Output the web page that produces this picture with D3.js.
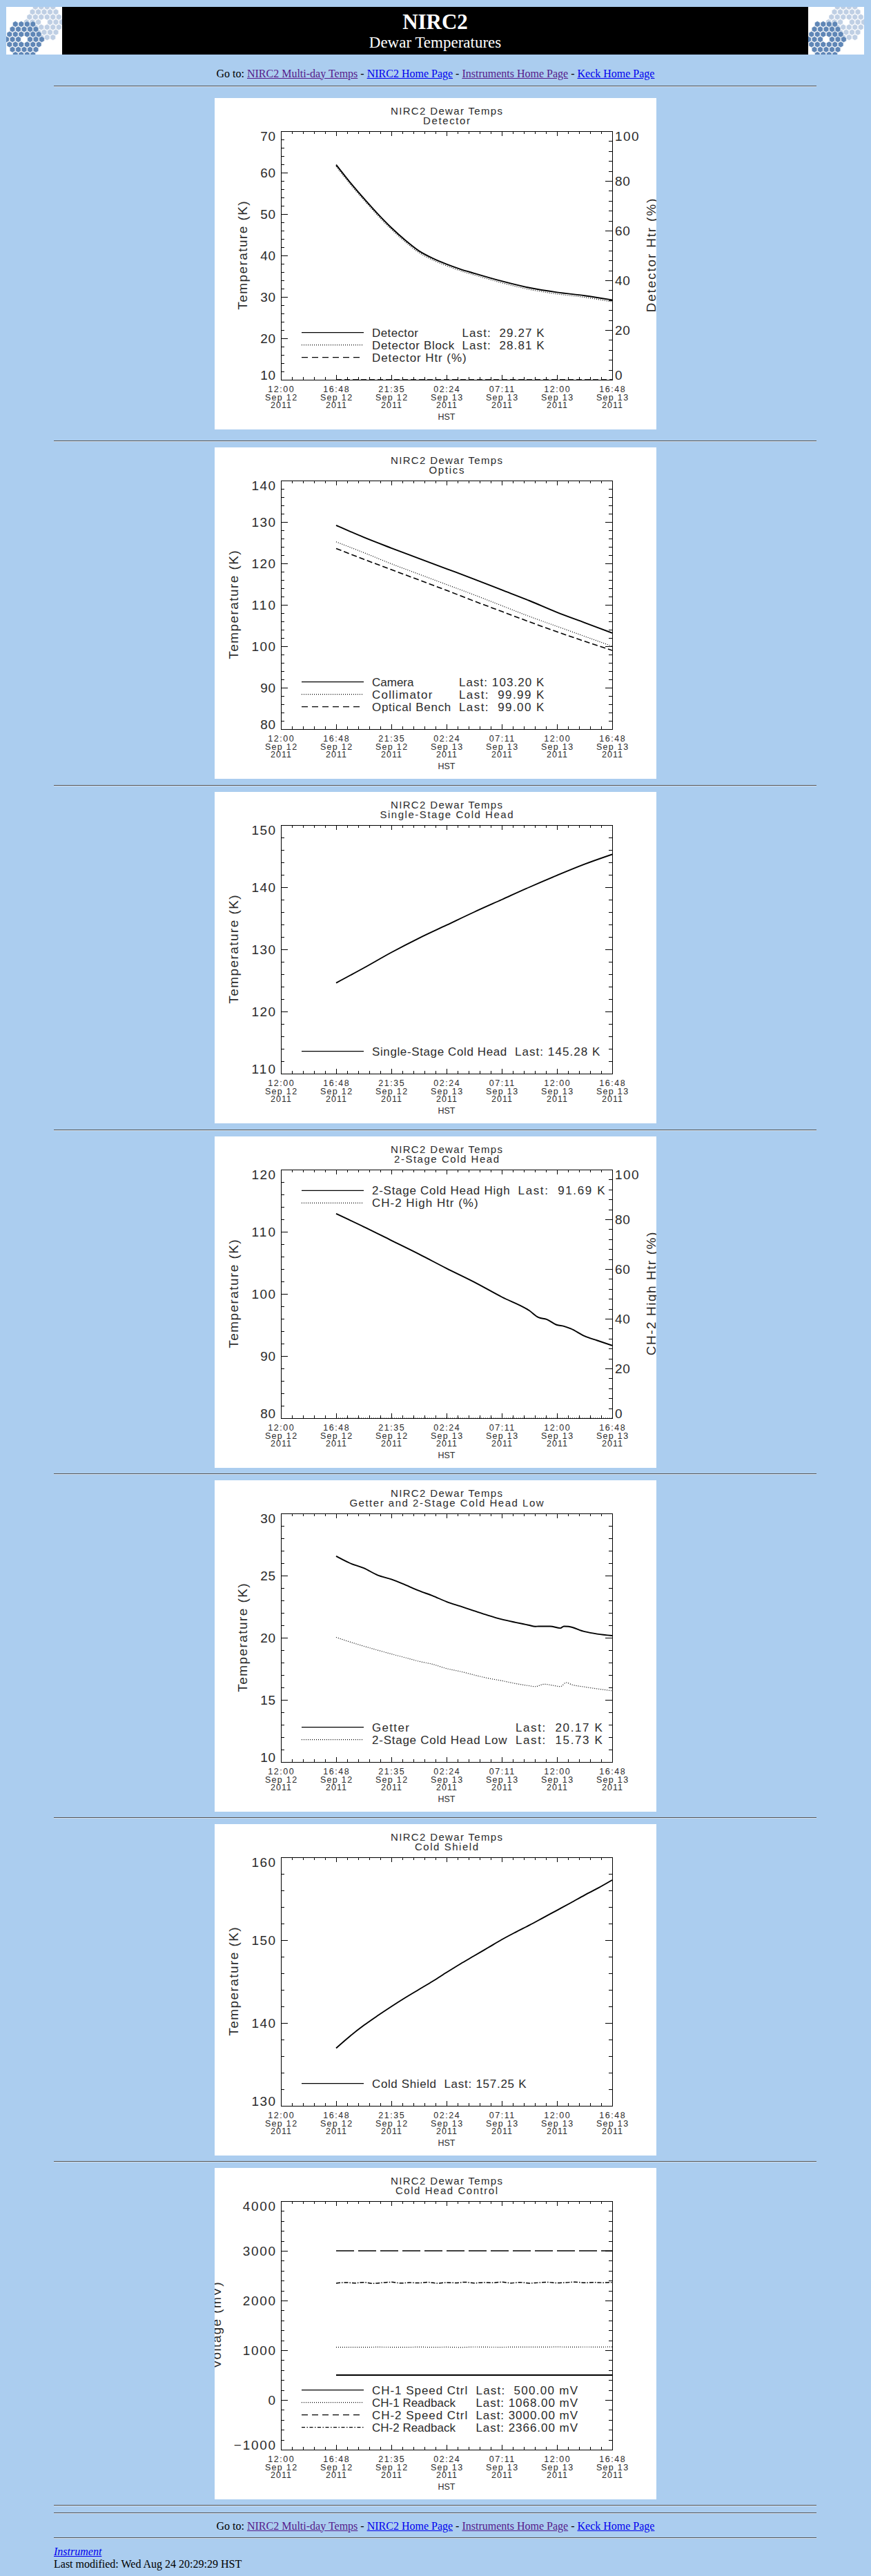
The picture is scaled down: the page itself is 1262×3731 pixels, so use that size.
<!DOCTYPE html>
<html lang="en">
  <head>
    <meta charset="UTF-8" />
    <title>NIRC2 Dewar Temperatures</title>
    <style>
      body {
        margin: 0;
        position: relative;
        width: 1262px;
        height: 3731px;
        overflow: hidden;
        background: #abcdef;
        font-family: "Liberation Serif", "Times New Roman", serif;
        font-size: 16px;
        color: #000;
      }
      .rule {
        position: absolute;
        left: 78px;
        width: 1105px;
        height: 0;
        border-top: 1px solid #555;
        border-bottom: 1px solid #d3e1f0;
      }
      .nav {
        position: absolute;
        left: 0;
        width: 1262px;
        text-align: center;
        line-height: 20px;
      }
      .foot {
        position: absolute;
        left: 78px;
        line-height: 18px;
      }
      a { text-decoration: underline; }
      a.seen { color: #551a8b; }
      a.fresh { color: #0000ee; }
      svg.abs { position: absolute; }
      .panel text {
        font-family: "Liberation Sans", Arial, sans-serif;
        fill: #2b2b2b;
        white-space: pre;
      }
    </style>
  </head>

  <body>
    <script src="https://cdn.jsdelivr.net/npm/d3@7"></script>
    <script>
      /* global d3 */

      // time axis, hours after 12:00 HST Sep 12 2011
      const tickHours = [0, 4.8, 9.6, 14.4, 19.2, 24, 28.8];
      const tickTimes = ["12:00", "16:48", "21:35", "02:24", "07:11", "12:00", "16:48"];
      const tickDays = ["Sep 12", "Sep 12", "Sep 12", "Sep 13", "Sep 13", "Sep 13", "Sep 13"];
      const tickYears = ["2011", "2011", "2011", "2011", "2011", "2011", "2011"];

      // detector
      const hoursDet = [4.8, 6.0, 7.2, 8.4, 9.6, 10.8, 12.0, 13.2, 14.4, 15.6, 16.8, 19.2, 21.6, 24.0, 26.4, 28.8];
      const detector = [61.9, 57.7, 53.8, 50.1, 46.7, 43.7, 41.1, 39.3, 37.9, 36.7, 35.7, 33.8, 32.2, 31.1, 30.3, 29.27];
      const detectorBlock = [61.5, 57.3, 53.4, 49.7, 46.3, 43.3, 40.7, 38.9, 37.5, 36.3, 35.3, 33.4, 31.8, 30.7, 29.9, 28.81];
      const htrHours = [4.8, 28.8];
      const detectorHtr = [0, 0];

      // optics
      const hoursOpt = [4.8, 7.2, 9.6, 12.0, 14.4, 16.8, 19.2, 21.6, 24.0, 26.4, 28.8];
      const camera = [129.2, 126.3, 123.7, 121.2, 118.7, 116.2, 113.6, 111.0, 108.2, 105.7, 103.2];
      const collimator = [125.2, 122.6, 119.9, 117.4, 114.9, 112.4, 109.8, 107.2, 104.8, 102.4, 99.99];
      const opticalBench = [123.6, 121.0, 118.5, 116.0, 113.5, 110.9, 108.4, 105.9, 103.5, 101.2, 99.0];

      // single-stage cold head
      const singleStage = [124.6, 127.0, 129.5, 131.8, 133.9, 136.0, 138.0, 140.0, 141.9, 143.7, 145.28];

      // 2-stage cold head
      const hoursCh2 = [4.8, 7.2, 9.6, 12.0, 14.4, 16.8, 19.2, 21.6, 22.4, 23.1, 24.0, 24.6, 25.2, 26.4, 27.5, 28.8];
      const ch2High = [112.9, 110.8, 108.6, 106.4, 104.1, 101.9, 99.5, 97.3, 96.2, 95.9, 95.0, 94.8, 94.4, 93.2, 92.5, 91.69];
      const ch2Htr = [0, 0];

      // getter and 2-stage low
      const hoursGetter = [4.8, 6.0, 7.2, 8.4, 9.6, 10.8, 12.0, 13.2, 14.4, 15.6, 16.8, 18.0, 19.2, 20.4, 21.6, 22.1, 22.4, 23.4, 24.3, 24.6, 25.0, 26.4, 27.5, 28.8];
      const getter = [26.56, 26.0, 25.6, 25.04, 24.7, 24.26, 23.78, 23.37, 22.9, 22.53, 22.16, 21.8, 21.48, 21.23, 21.0, 20.9, 20.92, 20.92, 20.77, 20.92, 20.9, 20.49, 20.3, 20.17];
      const hoursLow = [4.8, 6.0, 7.2, 8.4, 9.6, 10.8, 12.0, 13.2, 14.4, 15.6, 16.8, 18.0, 19.2, 20.4, 21.6, 22.1, 22.9, 23.6, 24.3, 24.8, 25.3, 26.4, 27.5, 28.8];
      const ch2Low = [20.03, 19.66, 19.32, 19.0, 18.69, 18.4, 18.1, 17.86, 17.52, 17.28, 17.0, 16.74, 16.54, 16.31, 16.13, 16.07, 16.26, 16.17, 16.07, 16.39, 16.22, 16.04, 15.89, 15.73];

      // cold shield
      const hoursShield = [4.8, 6.0, 7.2, 8.4, 9.6, 10.8, 12.0, 13.2, 14.4, 15.6, 16.8, 18.0, 19.2, 20.4, 21.6, 22.8, 24.0, 25.2, 26.4, 27.6, 28.8];
      const coldShield = [136.96, 138.4, 139.7, 140.87, 141.98, 143.04, 144.04, 145.04, 146.1, 147.13, 148.1, 149.08, 150.06, 150.95, 151.8, 152.7, 153.6, 154.5, 155.43, 156.3, 157.25];

      // cold head control (mV)
      const ctrlHours = [4.8, 28.8];
      const ch1Speed = [500, 500];
      const ch1Readback = [1060, 1062, 1061, 1063, 1062, 1060, 1064, 1061, 1063, 1058, 1066, 1063, 1062, 1065, 1064, 1063, 1067, 1064, 1066, 1065, 1068];
      const ch2Speed = [3000, 3000];
      const hoursFine = [4.8, 5.6, 6.4, 7.2, 8.0, 8.8, 9.6, 10.4, 11.2, 12.0, 12.8, 13.6, 14.4, 15.2, 16.0, 16.8, 17.6, 18.4, 19.2, 20.0, 20.8, 21.6, 22.4, 23.2, 24.0, 24.8, 25.6, 26.4, 27.2, 28.0, 28.8];
      const ch2Readback = [2348, 2362, 2351, 2366, 2344, 2358, 2370, 2349, 2360, 2353, 2367, 2346, 2361, 2355, 2369, 2350, 2363, 2357, 2371, 2352, 2365, 2348, 2360, 2368, 2354, 2362, 2372, 2356, 2364, 2359, 2366];

      const navLinks = [
        { text: "NIRC2 Multi-day Temps", seen: true },
        { text: "NIRC2 Home Page", seen: false },
        { text: "Instruments Home Page", seen: true },
        { text: "Keck Home Page", seen: false }
      ];

      const panels = [
        {
          sub: "Detector", yDomain: [10, 70], yStep: 10, yTitle: "Temperature (K)",
          right: { domain: [0, 100], step: 20, title: "Detector Htr (%)" },
          legendAt: "bottom", pad: 15, cw: 8.7,
          series: [
            { name: "Detector", h: hoursDet, v: detector, style: "solid", unit: " K" },
            { name: "Detector Block", h: hoursDet, v: detectorBlock, style: "dot", unit: " K" },
            { name: "Detector Htr (%)", h: htrHours, v: detectorHtr, style: "dash", axis: "right", plain: true }
          ]
        },
        {
          sub: "Optics", yDomain: [80, 140], yStep: 10, yTitle: "Temperature (K)",
          legendAt: "bottom", pad: 14, cw: 9.0,
          series: [
            { name: "Camera", h: hoursOpt, v: camera, style: "solid", unit: " K" },
            { name: "Collimator", h: hoursOpt, v: collimator, style: "dot", unit: " K" },
            { name: "Optical Bench", h: hoursOpt, v: opticalBench, style: "dash", unit: " K" }
          ]
        },
        {
          sub: "Single-Stage Cold Head", yDomain: [110, 150], yStep: 10, yTitle: "Temperature (K)",
          legendAt: "bottom", pad: 23, cw: 9.0,
          series: [
            { name: "Single-Stage Cold Head", h: hoursOpt, v: singleStage, style: "solid", unit: " K" }
          ]
        },
        {
          sub: "2-Stage Cold Head", yDomain: [80, 120], yStep: 10, yTitle: "Temperature (K)",
          right: { domain: [0, 100], step: 20, title: "CH-2 High Htr (%)" },
          legendAt: "top", pad: 23, cw: 9.2,
          series: [
            { name: "2-Stage Cold Head High", h: hoursCh2, v: ch2High, style: "solid", unit: " K" },
            { name: "CH-2 High Htr (%)", h: htrHours, v: ch2Htr, style: "dot", axis: "right", plain: true }
          ]
        },
        {
          sub: "Getter and 2-Stage Cold Head Low", yDomain: [10, 30], yStep: 5, yTitle: "Temperature (K)",
          legendAt: "bottom", pad: 22, cw: 9.45,
          series: [
            { name: "Getter", h: hoursGetter, v: getter, style: "solid", unit: " K" },
            { name: "2-Stage Cold Head Low", h: hoursLow, v: ch2Low, style: "dot", unit: " K" }
          ]
        },
        {
          sub: "Cold Shield", yDomain: [130, 160], yStep: 10, yTitle: "Temperature (K)",
          legendAt: "bottom", pad: 12, cw: 8.7,
          series: [
            { name: "Cold Shield", h: hoursShield, v: coldShield, style: "solid", unit: " K" }
          ]
        },
        {
          sub: "Cold Head Control", yDomain: [-1000, 4000], yStep: 1000, yTitle: "Voltage (mV)",
          legendAt: "bottom", pad: 16, cw: 9.4, fmt: "7.2f",
          series: [
            { name: "CH-1 Speed Ctrl", h: ctrlHours, v: ch1Speed, style: "solid", unit: " mV" },
            { name: "CH-1 Readback", h: hoursShield, v: ch1Readback, style: "dot", unit: " mV" },
            { name: "CH-2 Speed Ctrl", h: ctrlHours, v: ch2Speed, style: "longdash", unit: " mV" },
            { name: "CH-2 Readback", h: hoursFine, v: ch2Readback, style: "dashdot", unit: " mV" }
          ]
        }
      ];

      const panelTops = [142, 648, 1147, 1646, 2144, 2642, 3140];

      const lineStyle = {
        solid: { w: 1.9, dash: null, key: null },
        dot: { w: 1.2, dash: "1,2", key: "1,2" },
        dash: { w: 1.6, dash: "8,4", key: "9,6" },
        longdash: { w: 1.6, dash: "26,6", key: "9,6" },
        dashdot: { w: 1.5, dash: "6,2,1.5,2", key: "5,2.5,1.5,2.5" }
      };

      const body = d3.select("body");

      // the vector font of the plots is wider than any installed face:
      // stretch a string towards cw px per character, but never squeeze it
      // and never by more than 20%
      function hText(g, str, x, y, cw, size, anchor) {
        const t = g
          .append("text")
          .attr("x", x)
          .attr("y", y)
          .attr("font-size", size)
          .attr("text-anchor", anchor || "start")
          .attr("xml:space", "preserve")
          .text(str);
        if (str.length > 1) {
          const natural = t.node().getComputedTextLength();
          const target = Math.min((str.length - 0.3) * cw, natural * 1.2);
          if (target > natural) t.attr("textLength", target).attr("lengthAdjust", "spacing");
        }
        return t;
      }

      function rule(top) {
        body.append("div").attr("class", "rule").style("top", top + "px");
      }

      function nav(top) {
        const div = body.append("div").attr("class", "nav").style("top", top + "px");
        div.append("span").text("Go to: ");
        navLinks.forEach((l, i) => {
          if (i > 0) div.append("span").text(" - ");
          div.append("a").attr("href", "#").attr("class", l.seen ? "seen" : "fresh").text(l.text);
        });
      }

      // banner ---------------------------------------------------------------
      const banner = body
        .append("svg")
        .attr("class", "abs")
        .style("left", "0px")
        .style("top", "0px")
        .attr("width", 1262)
        .attr("height", 90);

      banner.append("rect").attr("x", 90).attr("y", 10).attr("width", 1081).attr("height", 69).attr("fill", "#000");
      banner
        .append("text")
        .attr("x", 630.5)
        .attr("y", 42)
        .attr("text-anchor", "middle")
        .attr("fill", "#fff")
        .attr("font-family", "Liberation Serif, serif")
        .attr("font-weight", "bold")
        .attr("font-size", 31)
        .text("NIRC2");
      banner
        .append("text")
        .attr("x", 630.5)
        .attr("y", 68.5)
        .attr("text-anchor", "middle")
        .attr("fill", "#fff")
        .attr("font-family", "Liberation Serif, serif")
        .attr("font-size", 23)
        .text("Dewar Temperatures");

      function hexCorners(r) {
        return d3.range(6).map(k => {
          const a = (Math.PI / 3) * k + Math.PI / 6;
          return [r * Math.cos(a), r * Math.sin(a)];
        });
      }

      function logo(ox) {
        const g = banner.append("g").attr("transform", `translate(${ox},10)`);
        g.append("rect").attr("width", 81).attr("height", 69).attr("fill", "#fff");
        const clip = "logo" + ox;
        g.append("clipPath").attr("id", clip).append("rect").attr("width", 81).attr("height", 69);
        const inner = g.append("g").attr("clip-path", `url(#${clip})`);
        const r = 4.9;
        const w = Math.sqrt(3) * r;
        const cells = [];
        for (let q = -3; q <= 3; q++) {
          for (let s = -3; s <= 3; s++) {
            const d = Math.max(Math.abs(q), Math.abs(s), Math.abs(q + s));
            if (d >= 1 && d <= 3) cells.push([w * (q + s / 2), 1.5 * r * s]);
          }
        }
        const hex = d3.line()(hexCorners(r - 0.5)) + "Z";
        // two primaries: the pale one behind, the darker one in front
        [
          { cx: 55, cy: 22, fill: "#bfcfe4" },
          { cx: 26, cy: 47, fill: "#5f86b6" }
        ].forEach(m => {
          inner
            .append("g")
            .selectAll("path")
            .data(cells)
            .join("path")
            .attr("transform", d => `translate(${m.cx + d[0]},${m.cy + d[1]})`)
            .attr("d", hex)
            .attr("fill", m.fill)
            .attr("stroke", "#fff")
            .attr("stroke-width", 0.5);
        });
      }
      logo(9);
      logo(1171);

      nav(96.6);
      rule(124);

      // panels ---------------------------------------------------------------
      const X0 = 96, X1 = 576, Y0 = 48, Y1 = 408;
      const labelCw = 12.8, labelSize = 19, cap = 13.6;

      function minorValues(lo, hi, step) {
        return d3
          .range(lo, hi + step / 10, step / 5)
          .filter(v => Math.abs(v / step - Math.round(v / step)) > 1e-6);
      }

      const fmtTick = v => (v < 0 ? "\u2212" + Math.abs(v) : String(v));

      function drawPanel(p, top, idx) {
        const svg = body
          .append("svg")
          .attr("class", "abs panel")
          .style("left", "311px")
          .style("top", top + "px")
          .attr("width", 640)
          .attr("height", 480);

        svg.append("rect").attr("width", 640).attr("height", 480).attr("fill", "#fff");

        const x = d3.scaleLinear().domain([0, 28.8]).range([X0, X1]);
        const y = d3.scaleLinear().domain(p.yDomain).range([Y1, Y0]);
        const yr = p.right ? d3.scaleLinear().domain(p.right.domain).range([Y1, Y0]) : y;
        const rStep = p.right ? p.right.step : p.yStep;

        // titles
        hText(svg, "NIRC2 Dewar Temps", 336, 24, 9.7, 15, "middle");
        hText(svg, p.sub, 336, 38, 9.1, 15, "middle");

        // ticks
        const xMinor = minorValues(0, 28.8, 4.8);
        const yMajor = d3.range(p.yDomain[0], p.yDomain[1] + p.yStep / 10, p.yStep);
        const yMinor = minorValues(p.yDomain[0], p.yDomain[1], p.yStep);
        const rMajor = d3.range(yr.domain()[0], yr.domain()[1] + rStep / 10, rStep);
        const rMinor = minorValues(yr.domain()[0], yr.domain()[1], rStep);

        const noDomain = g => g.select(".domain").remove();
        const axes = svg.append("g").attr("color", "#000").attr("shape-rendering", "crispEdges");

        axes.append("g").attr("transform", `translate(0,${Y1})`)
          .call(d3.axisBottom(x).tickValues(tickHours).tickSize(-7.2).tickFormat("")).call(noDomain);
        axes.append("g").attr("transform", `translate(0,${Y1})`)
          .call(d3.axisBottom(x).tickValues(xMinor).tickSize(-3.6).tickFormat("")).call(noDomain);
        axes.append("g").attr("transform", `translate(0,${Y0})`)
          .call(d3.axisTop(x).tickValues(tickHours).tickSize(-7.2).tickFormat("")).call(noDomain);
        axes.append("g").attr("transform", `translate(0,${Y0})`)
          .call(d3.axisTop(x).tickValues(xMinor).tickSize(-3.6).tickFormat("")).call(noDomain);
        axes.append("g").attr("transform", `translate(${X0},0)`)
          .call(d3.axisLeft(y).tickValues(yMajor).tickSize(-9.6).tickFormat("")).call(noDomain);
        axes.append("g").attr("transform", `translate(${X0},0)`)
          .call(d3.axisLeft(y).tickValues(yMinor).tickSize(-4.8).tickFormat("")).call(noDomain);
        axes.append("g").attr("transform", `translate(${X1},0)`)
          .call(d3.axisRight(yr).tickValues(rMajor).tickSize(-9.6).tickFormat("")).call(noDomain);
        axes.append("g").attr("transform", `translate(${X1},0)`)
          .call(d3.axisRight(yr).tickValues(rMinor).tickSize(-4.8).tickFormat("")).call(noDomain);

        axes.append("rect")
          .attr("x", X0 + 0.5).attr("y", Y0 + 0.5)
          .attr("width", X1 - X0).attr("height", Y1 - Y0)
          .attr("fill", "none").attr("stroke", "#000");

        // y labels, the end ones are kept inside the axis range
        const place = v => Math.max(Y0 + cap, Math.min(Y1, v + cap / 2));
        yMajor.forEach(v => hText(svg, fmtTick(v), X0 - 8, place(y(v)), labelCw, labelSize, "end"));
        const widest = d3.max(yMajor, v => fmtTick(v).length);
        const titleX = X0 - 8 - (widest - 0.3) * labelCw - 19;
        const lt = svg.append("g").attr("transform", `translate(${titleX},228) rotate(-90)`);
        hText(lt, p.yTitle, 0, 0, 10.7, labelSize, "middle");

        if (p.right) {
          rMajor.forEach(v => hText(svg, fmtTick(v), X1 + 4, place(yr(v)), labelCw, labelSize, "start"));
          const rt = svg.append("g").attr("transform", "translate(638.6,228) rotate(-90)");
          hText(rt, p.right.title, 0, 0, 10.7, labelSize, "middle");
        }

        // x labels
        tickHours.forEach((h, i) => {
          hText(svg, tickTimes[i], x(h), 426, 8.1, 12.5, "middle");
          hText(svg, tickDays[i], x(h), 437.5, 8.1, 12.5, "middle");
          hText(svg, tickYears[i], x(h), 449, 8.1, 12.5, "middle");
        });
        hText(svg, "HST", 336, 466, 8.1, 12.5, "middle");

        // data
        const clipId = "plot" + idx;
        svg.append("clipPath").attr("id", clipId)
          .append("rect").attr("x", X0).attr("y", Y0).attr("width", X1 - X0).attr("height", Y1 - Y0);
        const plot = svg.append("g").attr("clip-path", `url(#${clipId})`);

        p.series.forEach(s => {
          const ys = s.axis === "right" ? yr : y;
          const st = lineStyle[s.style];
          const line = d3
            .line()
            .x(d => x(d[0]))
            .y(d => ys(d[1]))
            .curve(d3.curveMonotoneX);
          plot
            .append("path")
            .datum(d3.zip(s.h, s.v))
            .attr("d", line)
            .attr("fill", "none")
            .attr("stroke", "#000")
            .attr("stroke-width", st.w)
            .attr("stroke-dasharray", st.dash);
        });

        // legend: name, then "Last: ..." on IDL's padded column
        const fmt = d3.format(p.fmt || "6.2f");
        const n = p.series.length;
        p.series.forEach((s, i) => {
          const cy = p.legendAt === "top" ? 78.3 + 18 * i : 375.7 - 18 * (n - 1 - i);
          const st = lineStyle[s.style];
          svg
            .append("line")
            .attr("x1", 126).attr("x2", 216)
            .attr("y1", cy).attr("y2", cy)
            .attr("stroke", "#000")
            .attr("stroke-width", Math.min(st.w, 1.3))
            .attr("stroke-dasharray", st.key);
          hText(svg, s.name, 228, cy + 6, p.cw, 17, "start");
          if (!s.plain) {
            const last = "Last: " + fmt(s.v[s.v.length - 1]) + s.unit;
            hText(svg, last, 228 + p.pad * p.cw, cy + 6, p.cw, 17, "start");
          }
        });
      }

      panels.forEach((p, i) => {
        if (i > 0) rule(panelTops[i] - 10);
        drawPanel(p, panelTops[i], i);
      });

      // footer ---------------------------------------------------------------
      rule(3628);
      rule(3639);
      nav(3648.6);
      rule(3675);

      const foot = body.append("div").attr("class", "foot").style("top", "3686.6px");
      foot.append("a").attr("href", "#").attr("class", "fresh").style("font-style", "italic").text("Instrument");
      foot.append("br");
      foot.append("span").text("Last modified: Wed Aug 24 20:29:29 HST");
    </script>
  </body>
</html>
